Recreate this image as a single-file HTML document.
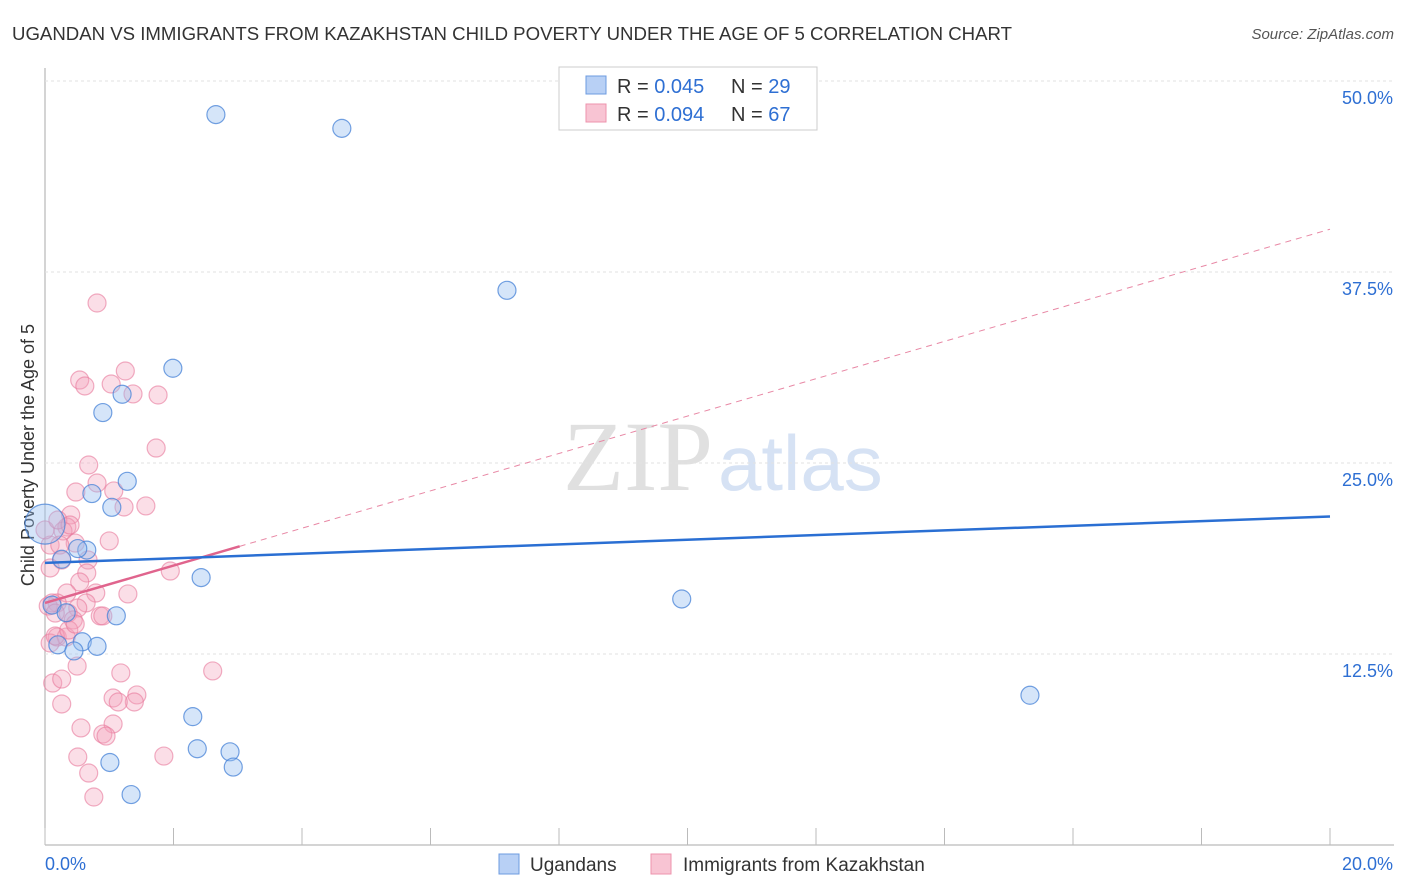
<!DOCTYPE html>
<html><head><meta charset="utf-8"><style>
body{margin:0;background:#fff;font-family:"Liberation Sans",sans-serif;}
#wrap{position:relative;width:1406px;height:892px;overflow:hidden;}
</style></head><body>
<div id="wrap">
<svg id="svg" width="1406" height="892" xmlns="http://www.w3.org/2000/svg">
<text x="12" y="40" font-size="18" fill="#333" textLength="1000" lengthAdjust="spacingAndGlyphs">UGANDAN VS IMMIGRANTS FROM KAZAKHSTAN CHILD POVERTY UNDER THE AGE OF 5 CORRELATION CHART</text>
<text x="1394" y="39" font-size="15" fill="#555" font-style="italic" text-anchor="end">Source: ZipAtlas.com</text>
<text x="713" y="490" font-size="100" fill="#e0e0e0" font-family="Liberation Serif" text-anchor="end">ZIP</text>
<text x="718" y="490" font-size="78" fill="#d6e2f4">atlas</text>
<text transform="translate(34,455) rotate(-90)" font-size="18" fill="#333" text-anchor="middle">Child Poverty Under the Age of 5</text>
<g id="grid"></g><g id="pts"></g><g id="lines"></g>
<g>
<rect x="559" y="67" width="258" height="63" fill="#fff" stroke="#ccc"/>
<rect x="586" y="76" width="20" height="18" fill="#b8d0f5" stroke="#6d9be0"/>
<rect x="586" y="104" width="20" height="18" fill="#f8c4d3" stroke="#ee93ad"/>
<text x="617" y="93" font-size="20" fill="#333">R = <tspan fill="#2e6fd3">0.045</tspan></text>
<text x="731" y="93" font-size="20" fill="#333">N = <tspan fill="#2e6fd3">29</tspan></text>
<text x="617" y="121" font-size="20" fill="#333">R = <tspan fill="#2e6fd3">0.094</tspan></text>
<text x="731" y="121" font-size="20" fill="#333">N = <tspan fill="#2e6fd3">67</tspan></text>
</g>
<g>
<rect x="499" y="854" width="20" height="20" fill="#b8d0f5" stroke="#6d9be0"/>
<text x="530" y="871" font-size="19" fill="#333">Ugandans</text>
<rect x="651" y="854" width="20" height="20" fill="#f8c4d3" stroke="#ee93ad"/>
<text x="683" y="871" font-size="19" fill="#333">Immigrants from Kazakhstan</text>
</g>
</svg></div>
<script>
const yTicks=[12.5,25,37.5,50];
const yTickLabels=["12.5%","25.0%","37.5%","50.0%"];
const xTickLabels=["0.0%","20.0%"];
const blueX=[2.66,4.62,7.19,1.99,1.20,0.90,1.28,0.73,1.04,0.26,0.65,0.51,2.43,1.11,9.91,0.58,0.20,0.45,0.81,15.33,2.30,2.37,2.88,1.01,2.93,1.34,0.11,0.33];
const blueY=[47.8,46.9,36.3,31.2,29.5,28.3,23.8,23.0,22.1,18.7,19.3,19.4,17.5,15.0,16.1,13.3,13.1,12.7,13.0,9.8,8.4,6.3,6.1,5.4,5.1,3.3,15.7,15.2];
const bigBlue=[0.0,21.0];
const pinkPx=[97,125,80,85,111,133,158,156,89,76,114,97,124,146,71,67,63,109,75,50,88,62,87,170,80,50,67,96,128,86,57,48,52,78,68,73,100,103,57,66,50,55,69,75,55,77,213,121,53,62,113,137,134,118,62,81,113,103,106,78,164,89,94,60,45,58,70];
const pinkPy=[303,371,380,386,384,394,395,448,465,492,491,483,507,506,515,527,531,541,543,545,560,560,573,571,582,568,593,593,594,603,603,606,603,608,613,620,616,616,637,637,643,636,630,624,613,666,671,673,683,679,698,695,702,702,704,728,724,734,736,757,756,773,797,545,530,520,525];
const pinkX=pinkPx.map(p=>+((p-45)/64.25).toFixed(2));
const pinkY=pinkPy.map(p=>+((845-p)*12.5/191).toFixed(2));
const blueTrend=[18.46,21.5];
const pinkTrend=[15.84,40.3];
const pinkSolidEnd=3.03;
const X=v=>45+v/20*1285, Y=v=>845-v/12.5*191;
const NS="http://www.w3.org/2000/svg";
function mk(t,a,p){const e=document.createElementNS(NS,t);for(const k in a)e.setAttribute(k,a[k]);p.appendChild(e);return e;}
const grid=document.getElementById('grid'),pts=document.getElementById('pts'),lines=document.getElementById('lines');
mk('line',{x1:45,y1:68,x2:45,y2:845,stroke:'#aaa'},grid);
mk('line',{x1:45,y1:845,x2:1394,y2:845,stroke:'#aaa'},grid);
for(let i=0;i<=10;i++){const l=mk('line',{x1:X(i*2),y1:845,x2:X(i*2),y2:828,stroke:'#bbb'},grid);}
yTicks.forEach((t,i)=>{
 const l=mk('line',{x1:45,y1:Y(t),x2:1394,y2:Y(t),stroke:'#e2e2e2','stroke-dasharray':'3,3'},grid);
 
 
 const tx=mk('text',{x:1393,y:Y(t)+23,'font-size':18,fill:'#2e6fd3','text-anchor':'end'},grid);
 tx.textContent=yTickLabels[i];
 
 
});
const xl0=mk('text',{x:45,y:870,'font-size':18,fill:'#2e6fd3'},grid);xl0.textContent=xTickLabels[0];


const xl1=mk('text',{x:1393,y:870,'font-size':18,fill:'#2e6fd3','text-anchor':'end'},grid);xl1.textContent=xTickLabels[1];


pinkX.forEach((x,i)=>{const c=mk('circle',{cx:X(x),cy:Y(pinkY[i]),r:9,fill:'rgba(244,160,185,0.35)',stroke:'rgba(232,120,155,0.6)','stroke-width':1.2},pts);
 
 });
blueX.forEach((x,i)=>{const c=mk('circle',{cx:X(x),cy:Y(blueY[i]),r:9,fill:'rgba(150,190,240,0.4)',stroke:'rgba(70,130,215,0.75)','stroke-width':1.2},pts);
 
 });
const bb=mk('circle',{cx:X(bigBlue[0]),cy:Y(bigBlue[1]),r:20,fill:'rgba(150,190,240,0.4)',stroke:'rgba(70,130,215,0.75)','stroke-width':1.2},pts);


const pk=x=>pinkTrend[0]+(pinkTrend[1]-pinkTrend[0])*x/20;
const pd=mk('line',{x1:X(pinkSolidEnd),y1:Y(pk(pinkSolidEnd)),x2:X(20),y2:Y(pk(20)),stroke:'#e888a5','stroke-width':1,'stroke-dasharray':'6,5'},lines);


const ps=mk('line',{x1:X(0),y1:Y(pk(0)),x2:X(pinkSolidEnd),y2:Y(pk(pinkSolidEnd)),stroke:'#e0648d','stroke-width':2.5},lines);


const bl=mk('line',{x1:X(0),y1:Y(blueTrend[0]),x2:X(20),y2:Y(blueTrend[1]),stroke:'#2a6fd3','stroke-width':2.5},lines);


</script>
</body></html>
